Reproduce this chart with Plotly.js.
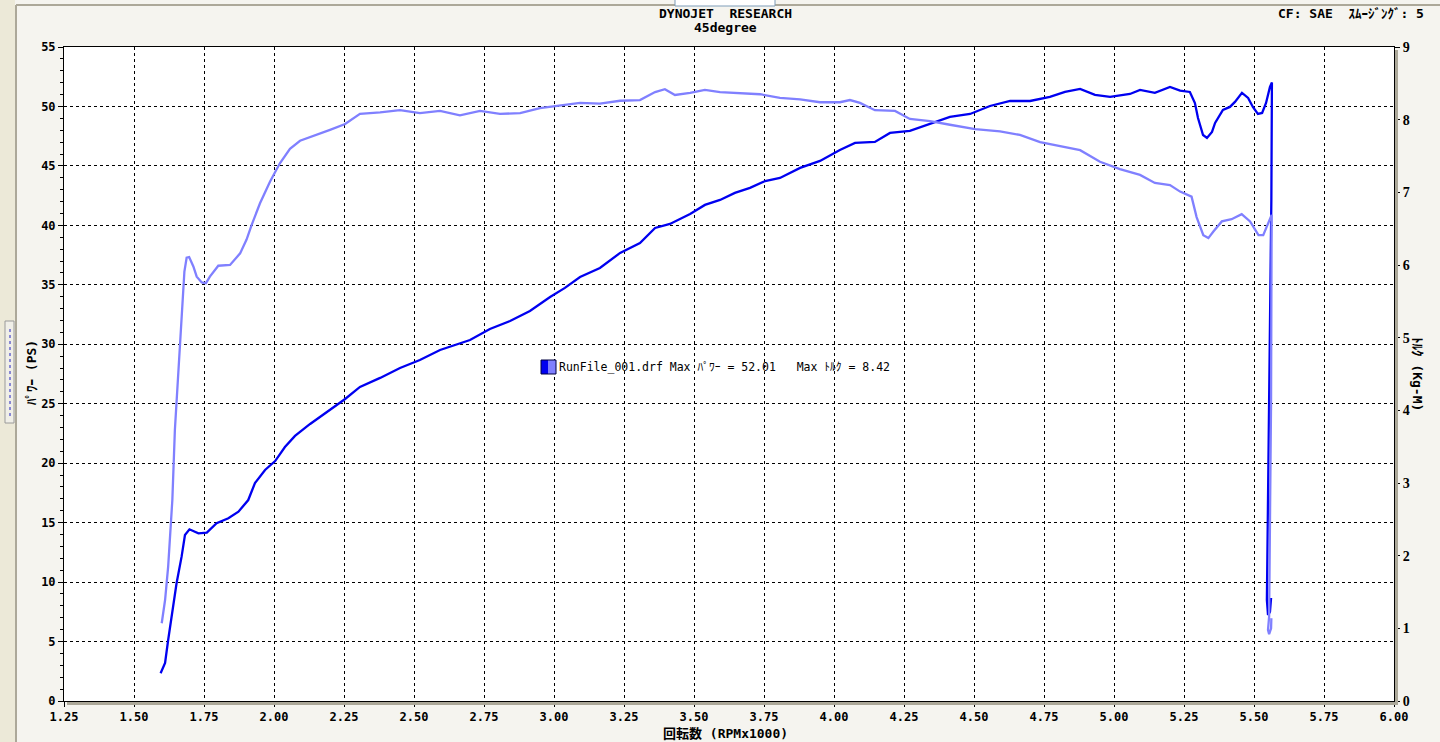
<!DOCTYPE html>
<html>
<head>
<meta charset="utf-8">
<script src="https://cdn.plot.ly/plotly-3.0.1.min.js"></script>
<style>
html,body{margin:0;padding:0;background:#F5F4EF;}
#chart{width:1440px;height:742px;}
</style>
</head>
<body>
<div id="chart"></div>
<script>
// ---- Data ----
const rpmPower = [1.595,1.611,1.622,1.635,1.652,1.670,1.682,1.698,1.730,1.760,1.795,1.837,1.873,1.908,
  1.932,1.968,2.004,2.039,2.075,2.129,2.182,2.254,2.307,2.379,2.450,2.521,2.593,2.646,2.700,2.771,2.843,
  2.914,2.986,3.039,3.093,3.164,3.236,3.307,3.361,3.414,3.486,3.539,3.593,3.646,3.700,3.754,3.807,3.879,
  3.950,4.021,4.075,4.146,4.200,4.271,4.343,4.414,4.486,4.557,4.629,4.700,4.771,4.825,4.879,4.932,4.986,
  5.057,5.093,5.146,5.200,5.236,5.271,5.289,5.300,5.318,5.332,5.350,5.361,5.389,5.414,5.432,5.457,5.479,
  5.496,5.514,5.529,5.543,5.557,5.564,5.562,5.554,5.550,5.546,5.550,5.557,5.561];
const power = [2.33,3.20,5.13,7.09,9.90,12.14,13.96,14.44,14.10,14.16,14.95,15.37,15.92,16.90,
  18.33,19.43,20.18,21.36,22.29,23.30,24.22,25.40,26.41,27.17,28.01,28.68,29.52,29.94,30.36,31.29,31.96,
  32.80,33.98,34.74,35.66,36.42,37.68,38.52,39.78,40.12,40.96,41.72,42.14,42.73,43.15,43.73,43.99,44.83,
  45.42,46.34,46.93,47.02,47.77,47.94,48.53,49.12,49.37,50.04,50.46,50.46,50.80,51.22,51.47,50.97,50.80,
  51.05,51.39,51.14,51.64,51.33,51.22,50.29,49.03,47.60,47.35,47.86,48.61,49.71,49.96,50.38,51.14,50.72,
  49.96,49.37,49.45,50.29,51.64,52.01,42.14,25.30,16.90,8.49,7.23,7.49,8.66];

const rpmTorque = [1.599,1.611,1.622,1.631,1.637,1.646,1.652,1.662,1.670,1.680,1.688,1.697,1.712,1.724,
  1.742,1.757,1.771,1.801,1.843,1.879,1.902,1.920,1.950,1.986,2.021,2.057,2.093,2.146,2.200,2.254,2.307,
  2.379,2.450,2.521,2.593,2.664,2.736,2.807,2.879,2.950,3.021,3.093,3.164,3.236,3.307,3.361,3.396,3.432,
  3.486,3.539,3.593,3.664,3.736,3.807,3.879,3.950,4.021,4.057,4.093,4.146,4.218,4.271,4.343,4.414,4.504,
  4.593,4.664,4.736,4.807,4.879,4.950,5.021,5.093,5.146,5.200,5.236,5.277,5.295,5.319,5.337,5.355,5.385,
  5.420,5.456,5.486,5.516,5.533,5.551,5.563,5.561,5.554,5.550,5.554,5.561,5.562];
const torque = [1.07,1.39,1.85,2.40,2.77,3.73,4.10,4.74,5.20,5.91,6.10,6.11,5.98,5.84,
  5.76,5.75,5.84,5.99,6.00,6.16,6.35,6.55,6.85,7.15,7.40,7.60,7.71,7.78,7.86,7.94,8.08,
  8.10,8.13,8.09,8.12,8.06,8.12,8.08,8.09,8.16,8.19,8.23,8.22,8.26,8.27,8.38,8.42,8.34,
  8.37,8.41,8.38,8.37,8.35,8.30,8.28,8.24,8.24,8.27,8.23,8.13,8.12,8.01,7.98,7.93,7.87,
  7.84,7.79,7.69,7.64,7.58,7.42,7.32,7.24,7.13,7.10,7.01,6.94,6.66,6.41,6.37,6.46,6.60,
  6.63,6.70,6.60,6.41,6.41,6.57,6.69,4.14,1.16,0.98,0.92,1.00,1.14];

const xTickStart = 1.25, xTickEnd = 6.00, xTickStep = 0.25;
const powerRange = [0, 55], torqueRange = [0, 9];
const runFile = "RunFile_001.drf";
const chartTitle = "DYNOJET\u00a0\u00a0RESEARCH";
const subTitle = "45degree";
const cornerText = "CF:\u00a0SAE\u00a0\u00a0ｽﾑｰｼﾞﾝｸﾞ:\u00a05";
const xTitle = "回転数\u00a0(RPMx1000)";
const yTitle = "ﾊﾟﾜｰ\u00a0(PS)";
const y2Title = "ﾄﾙｸ\u00a0(Kg-M)";

// ---- Geometry helpers (pixel -> paper) ----
const W = 1440, H = 742;
const M = {l: 64, r: 46, t: 47, b: 41};
const PW = W - M.l - M.r, PH = H - M.t - M.b;
const px = x => (x - M.l) / PW;
const py = y => (H - M.b - y) / PH;

const DARK = '#0000F0', LIGHT = '#8080FF';
const MONO = 'DejaVu Sans Mono, Noto Sans CJK JP, monospace';
const legendText = runFile + "\u00a0Max\u00a0ﾊﾟﾜｰ\u00a0=\u00a0" + Math.max(...power).toFixed(2) +
  "\u00a0\u00a0\u00a0Max\u00a0ﾄﾙｸ\u00a0=\u00a0" + Math.max(...torque).toFixed(2);

const traces = [
  {x: rpmPower, y: power, type: 'scatter', mode: 'lines', yaxis: 'y',
   line: {color: DARK, width: 2.3}, hoverinfo: 'skip'},
  {x: rpmTorque, y: torque, type: 'scatter', mode: 'lines', yaxis: 'y2',
   line: {color: LIGHT, width: 2.3}, hoverinfo: 'skip'}
];

const axisCommon = {
  showline: true, linecolor: '#000', linewidth: 1, mirror: true,
  zeroline: false, ticks: 'outside', tickcolor: '#000', ticklen: 5, tickwidth: 1,
  fixedrange: true
};

const layout = {
  width: W, height: H,
  paper_bgcolor: '#F5F4EF', plot_bgcolor: '#FFFFFF',
  margin: M, showlegend: false, hovermode: false,
  xaxis: Object.assign({}, axisCommon, {
    range: [xTickStart, xTickEnd], tick0: xTickStart, dtick: xTickStep, tickformat: '.2f',
    showgrid: true, gridcolor: '#000', gridwidth: 1, griddash: '3px,3px',
    tickfont: {family: MONO, size: 12, color: '#000', weight: 'bold'},
    minor: {dtick: 0.05, ticks: 'outside', ticklen: 3, tickcolor: '#000', showgrid: false}
  }),
  yaxis: Object.assign({}, axisCommon, {
    range: powerRange, dtick: 5, tick0: 0,
    showgrid: true, gridcolor: '#000', gridwidth: 1, griddash: '3px,3px',
    tickfont: {family: MONO, size: 12, color: '#000', weight: 'bold'},
    minor: {dtick: 1, ticks: 'outside', ticklen: 3, tickcolor: '#000', showgrid: false}
  }),
  yaxis2: Object.assign({}, axisCommon, {
    range: torqueRange, dtick: 1, tick0: 0, overlaying: 'y', side: 'right',
    showgrid: false, mirror: false,
    tickfont: {family: 'Liberation Serif, serif', size: 14, color: '#000', weight: 'bold'},
    minor: {dtick: 0.2, ticks: 'outside', ticklen: 3, tickcolor: '#000', showgrid: false}
  }),
  shapes: [
    {type: 'rect', xref: 'paper', yref: 'paper', x0: px(0), x1: px(15), y0: py(742), y1: py(0),
     fillcolor: '#ECE9D8', line: {width: 0}, layer: 'below'},
    {type: 'line', xref: 'paper', yref: 'paper', x0: px(16), x1: px(16), y0: py(742), y1: py(5),
     line: {color: '#ACA899', width: 2}},
    {type: 'line', xref: 'paper', yref: 'paper', x0: px(16), x1: px(1440), y0: py(5), y1: py(5),
     line: {color: '#ACA899', width: 2}},
    {type: 'rect', xref: 'paper', yref: 'paper', x0: px(675), x1: px(775), y0: py(6), y1: py(-2),
     fillcolor: '#FFFFFF', line: {color: '#7F9DB9', width: 1}},
    {type: 'rect', xref: 'paper', yref: 'paper', x0: px(5), x1: px(14), y0: py(423), y1: py(321),
     fillcolor: '#F0EFE8', line: {color: '#9A9A9A', width: 1}},
    {type: 'line', xref: 'paper', yref: 'paper', x0: px(10), x1: px(10), y0: py(416), y1: py(328),
     line: {color: '#2020C0', width: 1, dash: 'dot'}},
    {type: 'rect', xref: 'paper', yref: 'paper', x0: px(67), x1: px(1398), y0: py(705), y1: py(702),
     fillcolor: '#ACA899', line: {width: 0}},
    {type: 'rect', xref: 'paper', yref: 'paper', x0: px(1395), x1: px(1398), y0: py(705), y1: py(50),
     fillcolor: '#ACA899', line: {width: 0}},
    {type: 'rect', xref: 'paper', yref: 'paper', x0: px(541), x1: px(548.5), y0: py(374), y1: py(360),
     fillcolor: DARK, line: {width: 0}},
    {type: 'rect', xref: 'paper', yref: 'paper', x0: px(548.5), x1: px(556), y0: py(374), y1: py(360),
     fillcolor: LIGHT, line: {width: 0}},
    {type: 'rect', xref: 'paper', yref: 'paper', x0: px(541), x1: px(556), y0: py(374), y1: py(360),
     fillcolor: 'rgba(0,0,0,0)', line: {color: '#000040', width: 1}}
  ],
  annotations: [
    {text: chartTitle, xref: 'paper', yref: 'paper', x: px(725), y: py(13), showarrow: false,
     xanchor: 'center', yanchor: 'middle', font: {family: MONO, size: 13, color: '#000', weight: 'bold'}},
    {text: subTitle, xref: 'paper', yref: 'paper', x: px(725), y: py(28), showarrow: false,
     xanchor: 'center', yanchor: 'middle', font: {family: MONO, size: 13, color: '#000', weight: 'bold'}},
    {text: cornerText, xref: 'paper', yref: 'paper', x: px(1426), y: py(14), showarrow: false,
     xanchor: 'right', yanchor: 'middle', font: {family: MONO, size: 13, color: '#000', weight: 'bold'}},
    {text: xTitle, xref: 'paper', yref: 'paper', x: px(725), y: py(733), showarrow: false,
     xanchor: 'center', yanchor: 'middle', font: {family: MONO, size: 13, color: '#000', weight: 'bold'}},
    {text: yTitle, xref: 'paper', yref: 'paper', x: px(31), y: py(373), showarrow: false, textangle: -90,
     xanchor: 'center', yanchor: 'middle', font: {family: MONO, size: 13, color: '#000', weight: 'bold'}},
    {text: y2Title, xref: 'paper', yref: 'paper', x: px(1418), y: py(374), showarrow: false, textangle: 90,
     xanchor: 'center', yanchor: 'middle', font: {family: MONO, size: 13, color: '#000', weight: 'bold'}},
    {text: legendText, xref: 'paper', yref: 'paper', x: px(557), y: py(367), showarrow: false,
     xanchor: 'left', yanchor: 'middle', font: {family: MONO, size: 11.5, color: '#000'}}
  ]
};

Plotly.newPlot('chart', traces, layout, {displayModeBar: false, staticPlot: true});
</script>
</body>
</html>
